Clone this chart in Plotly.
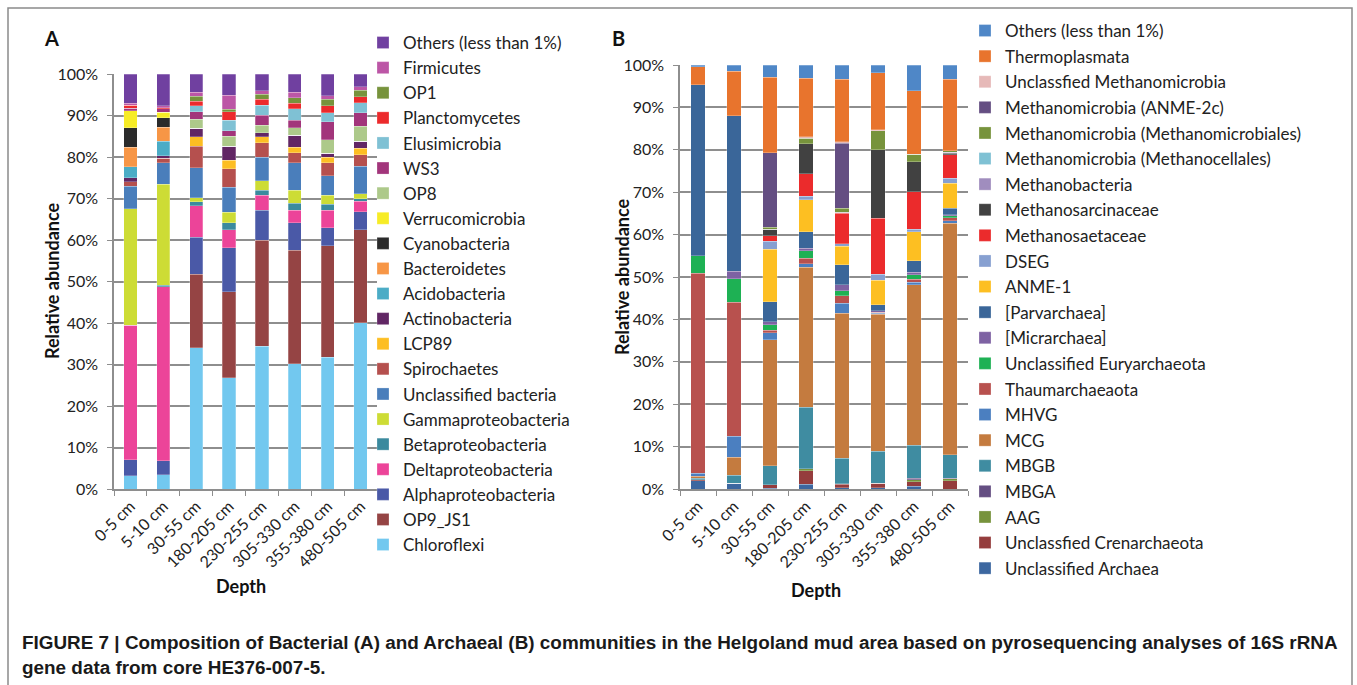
import plotly.graph_objects as go

W, H = 1357, 685

depths = ["0-5 cm", "5-10 cm", "30-55 cm", "180-205 cm",
          "230-255 cm", "305-330 cm", "355-380 cm", "480-505 cm"]

# ---- Panel A: bacteria (bottom of stack first), % relative abundance
chloroflexi = [3.2, 3.4, 34.0, 26.8, 34.4, 30.2, 31.8, 40.1]
op9_js1 = [0.0, 0.0, 17.8, 20.7, 25.5, 27.3, 26.8, 22.4]
alphaproteo = [3.9, 3.4, 8.9, 10.6, 7.3, 6.6, 4.3, 4.3]
deltaproteo = [32.3, 41.9, 7.5, 4.4, 3.6, 3.1, 4.3, 2.5]
betaproteo = [0.1, 0.4, 1.0, 1.6, 1.2, 1.7, 1.4, 0.6]
gammaproteo = [28.0, 24.3, 1.0, 2.6, 2.3, 3.1, 2.2, 1.3]
uncl_bacteria = [5.5, 5.2, 7.2, 6.0, 5.7, 6.6, 4.7, 6.6]
spirochaetes = [1.0, 1.1, 5.2, 4.5, 3.4, 2.4, 3.1, 2.8]
lcp89 = [0.0, 0.0, 2.3, 2.0, 1.5, 1.3, 1.3, 1.5]
actinobacteria = [1.0, 0.6, 2.0, 3.4, 0.9, 3.0, 1.0, 1.7]
acidobacteria = [2.6, 3.5, 0.0, 0.0, 0.0, 0.0, 0.0, 0.0]
bacteroidetes = [4.8, 3.4, 0.0, 0.0, 0.0, 0.0, 0.0, 0.0]
cyanobacteria = [4.6, 2.2, 0.0, 0.0, 0.0, 0.0, 0.0, 0.0]
verrucomicrobia = [4.2, 1.4, 0.0, 0.0, 0.0, 0.0, 0.0, 0.0]
op8 = [0.0, 0.0, 2.2, 2.4, 1.9, 1.7, 3.2, 3.6]
ws3 = [0.5, 0.8, 1.8, 1.3, 2.4, 1.9, 4.4, 3.3]
elusimicrobia = [0.0, 0.0, 1.4, 2.5, 2.4, 2.7, 2.2, 2.4]
planctomycetes = [0.8, 0.3, 1.1, 2.1, 1.4, 1.3, 1.7, 1.4]
op1 = [0.0, 0.0, 1.3, 0.6, 1.2, 1.4, 1.5, 1.6]
firmicutes = [0.5, 0.5, 0.9, 3.4, 0.9, 1.3, 0.8, 0.8]
others_a = [7.0, 7.6, 4.4, 5.1, 4.0, 4.4, 5.3, 3.1]

# ---- Panel B: archaea (bottom of stack first)
uncl_archaea = [2.0, 1.4, 0.2, 1.1, 0.3, 0.3, 0.6, 0.0]
uncl_crenarch = [0.2, 0.0, 0.8, 3.2, 0.8, 1.0, 1.1, 2.0]
aag = [0.0, 0.0, 0.0, 0.5, 0.1, 0.0, 0.5, 0.4]
mbga = [0.0, 0.0, 0.0, 0.0, 0.0, 0.0, 0.3, 0.1]
mbgb = [0.3, 1.9, 4.5, 14.5, 6.1, 7.6, 7.8, 5.6]
mcg = [0.5, 4.2, 29.7, 33.0, 34.2, 32.3, 37.9, 54.6]
mhvg = [0.7, 5.0, 1.6, 0.8, 2.3, 0.2, 0.6, 0.6]
thaum = [47.2, 31.5, 0.6, 1.3, 1.8, 0.3, 0.7, 0.7]
uncl_eury = [4.1, 5.6, 1.3, 1.8, 1.2, 0.0, 1.0, 0.4]
micrarchaea = [0.0, 1.8, 0.8, 0.6, 1.4, 0.3, 0.6, 0.3]
parvarchaea = [40.3, 36.6, 4.7, 3.9, 4.7, 1.4, 2.7, 1.5]
anme1 = [0.0, 0.0, 12.4, 7.5, 4.3, 5.8, 6.9, 5.9]
dseg = [0.0, 0.0, 1.8, 0.8, 0.6, 1.5, 0.6, 1.2]
methanosaetaceae = [0.0, 0.0, 1.3, 5.3, 7.2, 13.2, 8.8, 5.5]
methanosarcinaceae = [0.0, 0.0, 1.6, 7.1, 0.3, 16.1, 7.1, 0.4]
methanobacteria = [0.0, 0.0, 0.0, 0.0, 0.0, 0.0, 0.0, 0.2]
methanocellales = [0.0, 0.0, 0.0, 0.0, 0.0, 0.0, 0.0, 0.0]
methanomicrobiales = [0.0, 0.0, 0.4, 1.3, 0.9, 4.5, 1.8, 0.4]
anme2c = [0.0, 0.0, 17.6, 0.0, 15.3, 0.0, 0.0, 0.0]
uncl_methanomicrobia = [0.0, 0.0, 0.0, 0.4, 0.4, 0.2, 0.0, 0.0]
thermoplasmata = [4.3, 10.5, 17.8, 13.8, 14.7, 13.5, 14.9, 16.8]
others_b = [0.4, 1.4, 2.9, 3.1, 3.4, 1.8, 6.1, 3.4]

bacteria = [
    ("Chloroflexi", chloroflexi, "#72C8EF"),
    ("OP9_JS1", op9_js1, "#954444"),
    ("Alphaproteobacteria", alphaproteo, "#4A59A7"),
    ("Deltaproteobacteria", deltaproteo, "#EC4499"),
    ("Betaproteobacteria", betaproteo, "#3B8A9E"),
    ("Gammaproteobacteria", gammaproteo, "#CDDC35"),
    ("Unclassified bacteria", uncl_bacteria, "#4A7EBB"),
    ("Spirochaetes", spirochaetes, "#B5504E"),
    ("LCP89", lcp89, "#FDBE23"),
    ("Actinobacteria", actinobacteria, "#612664"),
    ("Acidobacteria", acidobacteria, "#4BACC6"),
    ("Bacteroidetes", bacteroidetes, "#F79646"),
    ("Cyanobacteria", cyanobacteria, "#2B2B2B"),
    ("Verrucomicrobia", verrucomicrobia, "#F7EC26"),
    ("OP8", op8, "#ADC98A"),
    ("WS3", ws3, "#A2357B"),
    ("Elusimicrobia", elusimicrobia, "#7FC1D4"),
    ("Planctomycetes", planctomycetes, "#EC2A2C"),
    ("OP1", op1, "#77933C"),
    ("Firmicutes", firmicutes, "#BC56A6"),
    ("Others (less than 1%)", others_a, "#7040A0"),
]

archaea = [
    ("Unclassified Archaea", uncl_archaea, "#3C67A0"),
    ("Unclassfied Crenarchaeota", uncl_crenarch, "#953D3D"),
    ("AAG", aag, "#77933C"),
    ("MBGA", mbga, "#644E82"),
    ("MBGB", mbgb, "#3F8CA1"),
    ("MCG", mcg, "#C47B3F"),
    ("MHVG", mhvg, "#4B7FC0"),
    ("Thaumarchaeaota", thaum, "#B8514E"),
    ("Unclassified Euryarchaeota", uncl_eury, "#1EB154"),
    ("[Micrarchaea]", micrarchaea, "#7E62A3"),
    ("[Parvarchaea]", parvarchaea, "#3A6699"),
    ("ANME-1", anme1, "#FDBF22"),
    ("DSEG", dseg, "#87A0D1"),
    ("Methanosaetaceae", methanosaetaceae, "#EB2B2C"),
    ("Methanosarcinaceae", methanosarcinaceae, "#414141"),
    ("Methanobacteria", methanobacteria, "#A08DBE"),
    ("Methanomicrobia (Methanocellales)", methanocellales, "#7FC1D4"),
    ("Methanomicrobia (Methanomicrobiales)", methanomicrobiales, "#77933C"),
    ("Methanomicrobia (ANME-2c)", anme2c, "#644E82"),
    ("Unclassfied Methanomicrobia", uncl_methanomicrobia, "#E6B9B8"),
    ("Thermoplasmata", thermoplasmata, "#E8742D"),
    ("Others (less than 1%)", others_b, "#4F87C7"),
]

FONT = "Lato, sans-serif"
GRID = "#8E8E8E"

fig = go.Figure()

# one legend group per trace so tracegroupgap controls row spacing;
# legendrank puts the top of the stack at the top of the legend (Excel style)
for i, (name, vals, color) in enumerate(bacteria):
    fig.add_trace(go.Bar(x=depths, y=vals, name=name, marker_color=color,
                         marker_line=dict(color="rgba(255,255,255,0.5)", width=0.5),
                         legend="legend", legendgroup="a_" + name, legendrank=1000 - i,
                         xaxis="x", yaxis="y"))

for i, (name, vals, color) in enumerate(archaea):
    fig.add_trace(go.Bar(x=depths, y=vals, name=name, marker_color=color,
                         marker_line=dict(color="rgba(255,255,255,0.5)", width=0.5),
                         legend="legend2", legendgroup="b_" + name, legendrank=1000 - i,
                         xaxis="x2", yaxis="y2"))


def px_x(p):
    return p / W


def px_y(p):
    return 1 - p / H


xaxis_style = dict(type="category", tickangle=-45, ticks="outside", tickson="boundaries",
                   ticklen=5, tickcolor=GRID, showline=True, linecolor=GRID, linewidth=1.5,
                   showgrid=False, automargin=False,
                   tickfont=dict(family=FONT, size=16, color="#222"))
yaxis_style = dict(range=[0, 100], dtick=10, ticksuffix="%", ticks="outside", ticklen=5,
                   tickcolor=GRID, showline=True, linecolor=GRID, linewidth=1.5,
                   showgrid=True, gridcolor=GRID, gridwidth=1.5, automargin=False,
                   ticklabelstandoff=6,
                   tickfont=dict(family=FONT, size=16, color="#222"))

legend_style = dict(orientation="v", traceorder="grouped", bgcolor="rgba(0,0,0,0)",
                    font=dict(family=FONT, size=17, color="#222"), xanchor="left", yanchor="top",
                    itemclick=False, itemdoubleclick=False)

fig.update_layout(
    width=W, height=H,
    margin=dict(l=0, r=0, t=0, b=0, autoexpand=False),
    paper_bgcolor="white", plot_bgcolor="white",
    barmode="stack", bargap=0.6,
    xaxis=dict(domain=[px_x(114), px_x(377)], anchor="y", **xaxis_style),
    yaxis=dict(domain=[px_y(489), px_y(74)], anchor="x", **yaxis_style),
    xaxis2=dict(domain=[px_x(680), px_x(968)], anchor="y2", **xaxis_style),
    yaxis2=dict(domain=[px_y(489), px_y(65)], anchor="x2", **yaxis_style),
    legend=dict(x=px_x(363), y=px_y(25), tracegroupgap=0, **legend_style),
    legend2=dict(x=px_x(965), y=px_y(13), tracegroupgap=0.5, **legend_style),
    showlegend=True,
)

# outer frame of the figure
fig.add_shape(type="rect", xref="paper", yref="paper",
              x0=px_x(8), x1=px_x(1352), y0=-0.1, y1=px_y(8),
              line=dict(color="#8A8A8A", width=1.5), fillcolor="rgba(0,0,0,0)")

bold = dict(family=FONT, size=18, color="#111")
notes = [
    dict(text="<b>A</b>", x=px_x(51), y=px_y(38), font=dict(family=FONT, size=20, color="#111")),
    dict(text="<b>B</b>", x=px_x(618), y=px_y(38), font=dict(family=FONT, size=20, color="#111")),
    dict(text="<b>Relative abundance</b>", x=px_x(52), y=px_y(281), textangle=-90, font=bold),
    dict(text="<b>Relative abundance</b>", x=px_x(622), y=px_y(277), textangle=-90, font=bold),
    dict(text="<b>Depth</b>", x=px_x(241), y=px_y(586), font=bold),
    dict(text="<b>Depth</b>", x=px_x(816), y=px_y(590), font=bold),
]
for n in notes:
    fig.add_annotation(xref="paper", yref="paper", showarrow=False,
                       xanchor="center", yanchor="middle", **n)

caption_font = dict(family="Liberation Sans, Arial, sans-serif", size=18.9, color="#1a1a1a")
fig.add_annotation(xref="paper", yref="paper", showarrow=False, xanchor="left", yanchor="middle",
                   x=px_x(20), y=px_y(642), font=caption_font,
                   text="<b>FIGURE 7 | Composition of Bacterial (A) and Archaeal (B) communities in the "
                        "Helgoland mud area based on pyrosequencing analyses of 16S rRNA</b>")
fig.add_annotation(xref="paper", yref="paper", showarrow=False, xanchor="left", yanchor="middle",
                   x=px_x(20), y=px_y(667), font=caption_font,
                   text="<b>gene data from core HE376-007-5.</b>")

# drop the browser's default 8px body margin so the figure sits at the page origin
fig.write_html("out.html", config={"displayModeBar": False},
               post_script="document.body.style.margin = '0';")
